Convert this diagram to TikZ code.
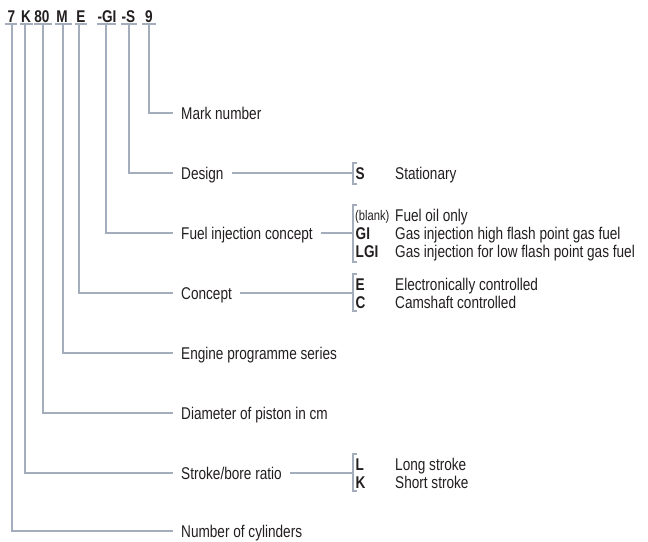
\documentclass[tikz,border=0pt]{standalone}
\usepackage{fontspec}
\setmainfont[FakeStretch=0.8]{Liberation Sans}
\definecolor{lncol}{HTML}{A3ADBB}
\definecolor{txtcol}{HTML}{231F20}
\begin{document}
\begin{tikzpicture}[x=1pt,y=-1pt,
  ln/.style={draw=lncol,line width=1.1pt},
  code/.style={anchor=base,inner sep=0pt,text=txtcol,font=\fontsize{17}{17}\selectfont\bfseries},
  lab/.style={anchor=base west,inner sep=0pt,text=txtcol,font=\fontsize{17}{17}\selectfont},
  opt/.style={anchor=base west,inner sep=0pt,text=txtcol,font=\fontsize{17}{17}\selectfont\bfseries},
  small/.style={anchor=base west,inner sep=0pt,text=txtcol,font=\fontsize{14}{14}\selectfont}]
\useasboundingbox (0,0) rectangle (648,541);
% code tokens
\node[code] (t7)  at (11.5,22) {7};
\node[code] (tK)  at (26,22) {K};
\node[code] (t80) at (42,22) {80};
\node[code] (tM)  at (62,22) {M};
\node[code] (tE)  at (81,22) {E};
\node[code] (tGI) at (107,22) {-GI};
\node[code] (tS)  at (128.5,22) {-S};
\node[code] (t9)  at (149,22) {9};
% underlines
\draw[ln] (5,24) -- (17,24);
\draw[ln] (20,24) -- (33,24);
\draw[ln] (34,24) -- (52,24);
\draw[ln] (55,24) -- (72,24);
\draw[ln] (75,24) -- (87,24);
\draw[ln] (97,24) -- (116,24);
\draw[ln] (121,24) -- (137,24);
\draw[ln] (142,24) -- (156,24);
\coordinate (u7)  at (12,24);
\coordinate (uK)  at (25,24);
\coordinate (u80) at (43,24);
\coordinate (uM)  at (63,24);
\coordinate (uE)  at (79,24);
\coordinate (uGI) at (106,24);
\coordinate (uS)  at (129,24);
\coordinate (u9)  at (149,24);
% labels (baseline = line y + 6)
\node[lab] (l9)  at (181,119) {Mark number};
\node[lab] (lS)  at (181,179) {Design};
\node[lab] (lGI) at (181,239) {Fuel injection concept};
\node[lab] (lE)  at (181,299) {Concept};
\node[lab] (lM)  at (181,359) {Engine programme series};
\node[lab] (l80) at (181,419) {Diameter of piston in cm};
\node[lab] (lK)  at (181,479) {Stroke/bore ratio};
\node[lab] (l7)  at (181,537) {Number of cylinders};
% connectors from code to labels
\draw[ln] (u9)  |- ([shift={(-8,-6)}]l9.base west);
\draw[ln] (uS)  |- ([shift={(-8,-6)}]lS.base west);
\draw[ln] (uGI) |- ([shift={(-8,-6)}]lGI.base west);
\draw[ln] (uE)  |- ([shift={(-8,-6)}]lE.base west);
\draw[ln] (uM)  |- ([shift={(-8,-6)}]lM.base west);
\draw[ln] (u80) |- ([shift={(-8,-6)}]l80.base west);
\draw[ln] (uK)  |- ([shift={(-8,-6)}]lK.base west);
\draw[ln] (u7)  |- ([shift={(-8,-6)}]l7.base west);
% brackets
\coordinate (bSt) at (353,163); \coordinate (bSb) at (353,184); \coordinate (bSm) at (353,173);
\coordinate (bFt) at (353,205); \coordinate (bFb) at (353,262); \coordinate (bFm) at (353,233);
\coordinate (bEt) at (353,274); \coordinate (bEb) at (353,311); \coordinate (bEm) at (353,293);
\coordinate (bKt) at (353,454); \coordinate (bKb) at (353,491); \coordinate (bKm) at (353,473);
\foreach \b in {S,F,E,K}{
  \draw[ln] ([xshift=4]b\b t) -- (b\b t) -- (b\b b) -- ([xshift=4]b\b b);
}
\draw[ln] ([shift={(8,-6)}]lS.base east) -- (bSm);
\draw[ln] ([shift={(8,-6)}]lGI.base east) -- (bFm);
\draw[ln] ([shift={(8,-6)}]lE.base east) -- (bEm);
\draw[ln] ([shift={(8,-6)}]lK.base east) -- (bKm);
% options
\node[opt] (oS) at (355.5,179) {S};
\node[lab] (dS) at (395,179) {Stationary};
\node[small] (oB) at (355,220) {(blank)};
\node[lab] (dB) at (395,221) {Fuel oil only};
\node[opt] (oGI) at (355.5,239) {GI};
\node[lab] (dGI) at (395,239) {Gas injection high flash point gas fuel};
\node[opt] (oLGI) at (355.5,257) {LGI};
\node[lab] (dLGI) at (395,257) {Gas injection for low flash point gas fuel};
\node[opt] (oE) at (355.5,290) {E};
\node[lab] (dE) at (395,290) {Electronically controlled};
\node[opt] (oC) at (355.5,308) {C};
\node[lab] (dC) at (395,308) {Camshaft controlled};
\node[opt] (oL) at (355.5,470) {L};
\node[lab] (dL) at (395,470) {Long stroke};
\node[opt] (oK) at (355.5,488) {K};
\node[lab] (dK) at (395,488) {Short stroke};
\end{tikzpicture}
\end{document}
